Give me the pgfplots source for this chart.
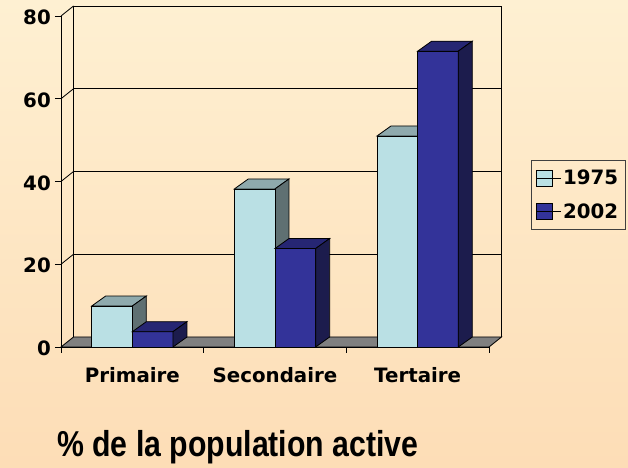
\documentclass[border=0pt]{standalone}
\usepackage{fontspec}
\setmainfont{DejaVu Sans}
\newfontfamily\titlefont[FakeStretch=0.84]{Liberation Sans}
\usepackage{pgfplots}
\pgfplotsset{compat=1.18}
\definecolor{bgtop}{HTML}{FEF0D2}
\definecolor{bgbot}{HTML}{FDDDB6}
\definecolor{cA}{HTML}{BAE0E4}
\definecolor{cAtop}{HTML}{8FAAAD}
\definecolor{cAside}{HTML}{5F7072}
\definecolor{cB}{HTML}{333399}
\definecolor{cBtop}{HTML}{262673}
\definecolor{cBside}{HTML}{1C1C4D}
\definecolor{floorc}{HTML}{808080}
% depth offsets (axis units)
\def\bx{0.0981}\def\by{2.417}
\newcommand{\topside}[5]{%
  \pgfmathsetmacro\xa{#1}\pgfmathsetmacro\xb{#2}%
  \pgfmathsetmacro\xc{#1+\bx}\pgfmathsetmacro\xd{#2+\bx}%
  \pgfmathsetmacro\vt{#3+\by}%
  \addplot[forget plot, fill=#4, draw=black, line width=0.8bp] coordinates {(\xa,#3) (\xb,#3) (\xd,\vt) (\xc,\vt)} -- cycle;
  \addplot[forget plot, fill=#5, draw=black, line width=0.8bp] coordinates {(\xb,0) (\xd,\by) (\xd,\vt) (\xb,#3)} -- cycle;
}
\begin{document}
\begin{tikzpicture}
\useasboundingbox (0,0) rectangle (628bp,468bp);
\shade[top color=bgtop, bottom color=bgbot] (0,0) rectangle (628bp,468bp);
\begin{axis}[
  at={(61bp,121bp)}, anchor=south west,
  scale only axis, width=428bp, height=331bp,
  xmin=0, xmax=3, ymin=0, ymax=80,
  clip=false,
  axis x line*=bottom, axis y line*=left,
  axis line style={black, line width=0.8bp},
  tick align=outside,
  tick style={black, line width=0.8bp},
  major tick length=6bp,
  xtick={0,1,2,3}, xticklabels={},
  extra x ticks={0.5,1.5,2.5},
  extra x tick labels={Primaire,Secondaire,Tertaire},
  extra x tick style={tick style={draw=none}},
  ytick={0,20,40,60,80},
  /pgf/number format/assume math mode=true,
  ticklabel style={font=\fontsize{19.8bp}{21bp}\selectfont\bfseries},
  yticklabel style={inner sep=0pt, xshift=-4bp, yshift=-1.5bp},
  xticklabel style={inner sep=0pt, yshift=-14bp},
  legend style={at={(1.098,0.565)}, anchor=north west,
    draw=black!75, fill=none, line width=0.6bp,
    font=\fontsize{19.8bp}{21bp}\selectfont\bfseries,
    inner xsep=5bp, inner ysep=8bp, row sep=13bp,
    cells={anchor=west}},
]
% floor
\addplot[forget plot, fill=floorc, draw=black, line width=0.8bp] coordinates {(0,0) (3,0) (3.0876,2.417) (0.0876,2.417)} -- cycle;
% back wall and grid
\addplot[forget plot, black, line width=0.8bp] coordinates {(0.0876,2.417) (0.0876,82.417) (3.0876,82.417) (3.0876,2.417)};
\addplot[forget plot, black, line width=0.8bp] coordinates {(0.0876,22.417) (3.0876,22.417)};
\addplot[forget plot, black, line width=0.8bp] coordinates {(0.0876,42.417) (3.0876,42.417)};
\addplot[forget plot, black, line width=0.8bp] coordinates {(0.0876,62.417) (3.0876,62.417)};
\addplot[forget plot, black, line width=0.8bp] coordinates {(0,20) (0.0876,22.417)};
\addplot[forget plot, black, line width=0.8bp] coordinates {(0,40) (0.0876,42.417)};
\addplot[forget plot, black, line width=0.8bp] coordinates {(0,60) (0.0876,62.417)};
\addplot[forget plot, black, line width=0.8bp] coordinates {(0,80) (0.0876,82.417)};
% 1975 tops and sides
\topside{0.215}{0.5}{9.9}{cAtop}{cAside}
\topside{1.215}{1.5}{38.2}{cAtop}{cAside}
\topside{2.215}{2.5}{51.0}{cAtop}{cAside}
% fronts
\addplot[ybar, bar width=0.285, bar shift=-0.1425, fill=cA, draw=black, line width=0.8bp,
  legend image code/.code={\draw[fill=cA, draw=black, line width=0.6bp] (0bp,-7.5bp) rectangle (16bp,8.5bp); \path (0bp,0bp) -- (24bp,0bp);}]
  coordinates {(0.5,9.9) (1.5,38.2) (2.5,51.0)};
\addlegendentry{1975}
\addplot[ybar, bar width=0.285, bar shift=0.1425, fill=cB, draw=black, line width=0.8bp,
  legend image code/.code={\draw[fill=cB, draw=black, line width=0.6bp] (0bp,-7.5bp) rectangle (16bp,8.5bp); \path (0bp,0bp) -- (24bp,0bp);}]
  coordinates {(0.5,3.7) (1.5,23.8) (2.5,71.5)};
\addlegendentry{2002}
% 2002 tops and sides
\topside{0.5}{0.785}{3.7}{cBtop}{cBside}
\topside{1.5}{1.785}{23.8}{cBtop}{cBside}
\topside{2.5}{2.785}{71.5}{cBtop}{cBside}
\end{axis}
\node[anchor=base west, inner sep=0pt] at (57bp,12bp)
  {\titlefont\bfseries\fontsize{36bp}{38bp}\selectfont \% de la population active};
\end{tikzpicture}
\end{document}
